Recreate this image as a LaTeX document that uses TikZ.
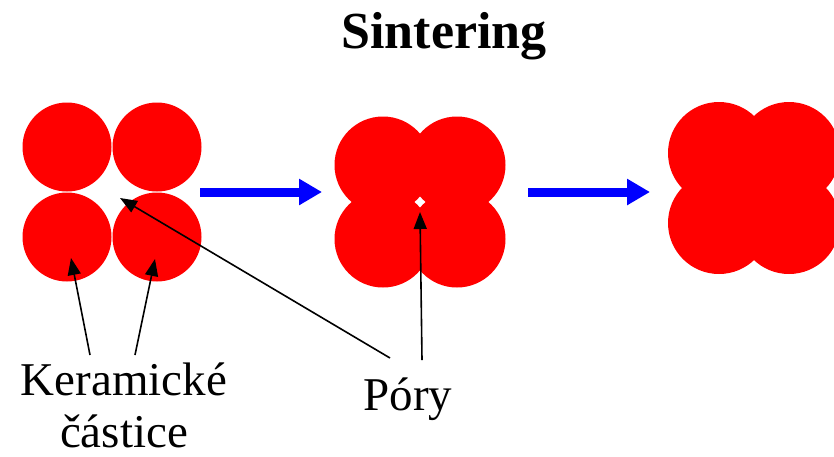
\documentclass[tikz,border=0pt]{standalone}
\usepackage{fontspec}
\setmainfont{Liberation Serif}[BoldFont={Liberation Serif Bold}]
\usetikzlibrary{arrows.meta}
\definecolor{grainred}{RGB}{255,0,0}
\definecolor{flowblue}{RGB}{0,0,255}
\begin{document}
\begin{tikzpicture}[x=1pt,y=-1pt,
  grain/.style={circle, fill=grainred, inner sep=0pt, minimum size=#1},
  stage/.style={draw=flowblue, line width=9pt,
    -{Triangle[length=23pt,width=25pt]}},
  pointer/.style={draw=black, line width=1.6pt,
    -{Triangle[length=17pt,width=13pt]}},
  label/.style={font=\fontsize{47}{52}\selectfont, inner sep=0pt, anchor=base}
]
\useasboundingbox (0,0) rectangle (834,456);
\clip (0,0) rectangle (834,456);

% title
\node[font=\bfseries\fontsize{52}{60}\selectfont, inner sep=0pt, anchor=base]
  (title) at (444,48) {Sintering};

% loose ceramic particles
\node[grain=89] (a1) at (67,147) {};
\node[grain=89] (a2) at (157,147) {};
\node[grain=89] (a3) at (67,237) {};
\node[grain=89] (a4) at (157,237) {};

% necks forming, one pore left in the middle
\node[grain=97] (b1) at (383,165) {};
\node[grain=97] (b2) at (457,165) {};
\node[grain=97] (b3) at (383,239) {};
\node[grain=97] (b4) at (457,239) {};

% dense body
\node[grain=102] (c1) at (719,153) {};
\node[grain=102] (c2) at (789,153) {};
\node[grain=102] (c3) at (719,223) {};
\node[grain=102] (c4) at (789,223) {};

% process arrows
\coordinate (s1a) at (200,192);
\coordinate (s1b) at (322,192);
\coordinate (s2a) at (528,192);
\coordinate (s2b) at (650,192);
\draw[stage] (s1a) -- (s1b);
\draw[stage] (s2a) -- (s2b);

% labels (base anchor sits on the last line)
\node[label, align=center] (ceramic) at (124,447) {Keramické\\částice};
\node[label] (pores) at (408,410) {Póry};

% pointer ends
\coordinate (k1tail) at (90,355);
\coordinate (k2tail) at (135,355);
\coordinate (p1tail) at (390,358);
\coordinate (p2tail) at (422,360);
\coordinate (k1tip) at (71,258);
\coordinate (k2tip) at (155,259);
\coordinate (p1tip) at (120,198);
\coordinate (p2tip) at (420,212);

\draw[pointer] (k1tail) -- (k1tip);
\draw[pointer] (k2tail) -- (k2tip);
\draw[pointer] (p1tail) -- (p1tip);
\draw[pointer] (p2tail) -- (p2tip);
\end{tikzpicture}
\end{document}
